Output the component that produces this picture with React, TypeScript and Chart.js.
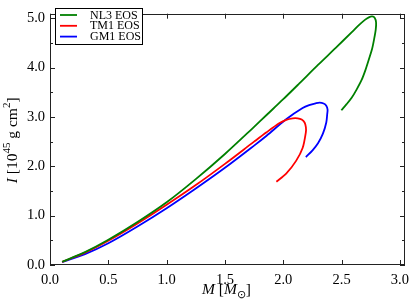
import React, { useEffect, useRef } from "react";
import { Chart, registerables } from "chart.js";

Chart.register(...registerables);

// NL3 EOS
const nl3M = [0.104, 0.3, 0.5, 0.75, 1.0, 1.25, 1.5, 1.75, 1.857, 2.0, 2.138, 2.3, 2.45, 2.588, 2.644, 2.7, 2.734, 2.762, 2.785, 2.796, 2.793, 2.779, 2.762, 2.737, 2.706, 2.672, 2.63, 2.588, 2.543, 2.498];
const nl3I = [0.065, 0.26, 0.51, 0.87, 1.27, 1.74, 2.25, 2.8, 3.04, 3.36, 3.68, 4.06, 4.4, 4.72, 4.85, 4.967, 5.019, 5.038, 5.006, 4.915, 4.772, 4.577, 4.383, 4.188, 3.96, 3.75, 3.56, 3.395, 3.259, 3.136];
// TM1 EOS
const tm1M = [0.104, 0.3, 0.5, 0.75, 1.0, 1.25, 1.5, 1.75, 1.857, 1.969, 2.025, 2.081, 2.124, 2.158, 2.183, 2.194, 2.194, 2.166, 2.11, 2.025, 1.941];
const tm1I = [0.065, 0.25, 0.49, 0.84, 1.22, 1.62, 2.05, 2.5, 2.69, 2.876, 2.941, 2.973, 2.973, 2.948, 2.889, 2.792, 2.694, 2.37, 2.11, 1.85, 1.688];
// GM1 EOS
const gm1M = [0.104, 0.3, 0.5, 0.75, 1.0, 1.25, 1.5, 1.75, 1.857, 2.025, 2.166, 2.222, 2.278, 2.312, 2.346, 2.369, 2.38, 2.377, 2.369, 2.34, 2.298, 2.251, 2.194];
const gm1I = [0.06, 0.22, 0.44, 0.78, 1.15, 1.55, 1.97, 2.42, 2.62, 2.954, 3.18, 3.24, 3.278, 3.292, 3.272, 3.227, 3.149, 3.06, 2.889, 2.662, 2.467, 2.324, 2.188];

const seriesNames = ["NL3 EOS", "TM1 EOS", "GM1 EOS"];
const seriesColors = ["#008000", "#ff0000", "#0000ff"];

const xTicks = [0, 0.5, 1.0, 1.5, 2.0, 2.5, 3.0];
const yTicks = [0, 1, 2, 3, 4, 5];
const yMinorTicks = [0.5, 1.5, 2.5, 3.5, 4.5];
const xMax = 3.044;
const yMax = 5.093;

const SERIF = "'Liberation Serif', 'Times New Roman', serif";

const toPoints = (xs: number[], ys: number[]) => xs.map((x, i) => ({ x, y: ys[i] }));

type Seg = { t: string; italic?: boolean; sup?: boolean; sub?: boolean };

function drawRich(ctx: CanvasRenderingContext2D, segs: Seg[], cx: number, baseY: number, size: number) {
  const fontFor = (s: Seg) => {
    const sz = s.sup || s.sub ? Math.round(size * 0.72) : size;
    return `${s.italic ? "italic " : ""}${sz}px ${SERIF}`;
  };
  let total = 0;
  const widths = segs.map((s) => {
    ctx.font = fontFor(s);
    const w = ctx.measureText(s.t).width;
    total += w;
    return w;
  });
  let x = cx - total / 2;
  ctx.textBaseline = "alphabetic";
  ctx.textAlign = "left";
  segs.forEach((s, i) => {
    ctx.font = fontFor(s);
    const dy = s.sup ? -size * 0.42 : s.sub ? size * 0.3 : 0;
    ctx.fillText(s.t, x, baseY + dy);
    x += widths[i];
  });
}

const decorPlugin = {
  id: "decor",
  afterDraw(chart: any) {
    const { ctx, chartArea, scales } = chart;
    const { left, right, top, bottom } = chartArea;
    const xs = scales.x;
    const ys = scales.y;
    ctx.save();
    ctx.strokeStyle = "#222";
    ctx.lineWidth = 1;
    // frame
    ctx.strokeRect(Math.round(left) + 0.5, Math.round(top) + 0.5, Math.round(right - left) - 1, Math.round(bottom - top) - 1);
    ctx.beginPath();
    const major = 5;
    const minor = 3;
    xTicks.forEach((v) => {
      const p = Math.round(xs.getPixelForValue(v)) + 0.5;
      ctx.moveTo(p, bottom);
      ctx.lineTo(p, bottom - major);
      ctx.moveTo(p, top);
      ctx.lineTo(p, top + major);
    });
    yTicks.forEach((v) => {
      const p = Math.round(ys.getPixelForValue(v)) + 0.5;
      ctx.moveTo(left, p);
      ctx.lineTo(left + major, p);
      ctx.moveTo(right, p);
      ctx.lineTo(right - major, p);
    });
    yMinorTicks.forEach((v) => {
      const p = Math.round(ys.getPixelForValue(v)) + 0.5;
      ctx.moveTo(left, p);
      ctx.lineTo(left + minor, p);
      ctx.moveTo(right, p);
      ctx.lineTo(right - minor, p);
    });
    ctx.stroke();

    // legend
    const lx = 55.5;
    const ly = 8.5;
    ctx.fillStyle = "#fff";
    ctx.fillRect(lx, ly, 87, 36);
    ctx.strokeStyle = "#000";
    ctx.strokeRect(lx, ly, 87, 36);
    seriesNames.forEach((name, i) => {
      const yy = 15 + i * 10.8;
      ctx.strokeStyle = seriesColors[i];
      ctx.lineWidth = 1.8;
      ctx.beginPath();
      ctx.moveTo(60, yy);
      ctx.lineTo(77, yy);
      ctx.stroke();
      ctx.fillStyle = "#000";
      ctx.font = `12px ${SERIF}`;
      ctx.textAlign = "left";
      ctx.textBaseline = "middle";
      ctx.fillText(name, 90, yy + 0.5);
    });

    // axis titles
    ctx.fillStyle = "#000";
    drawRich(
      ctx,
      [{ t: "M", italic: true }, { t: " [" }, { t: "M", italic: true }, { t: "\u2299", sub: true }, { t: "]" }],
      (left + right) / 2 - 1,
      293.5,
      15.5
    );
    ctx.save();
    ctx.translate(16.5, (top + bottom) / 2 + 1);
    ctx.rotate(-Math.PI / 2);
    drawRich(
      ctx,
      [{ t: "I", italic: true }, { t: " [10" }, { t: "45", sup: true }, { t: " g cm" }, { t: "2", sup: true }, { t: "]" }],
      0,
      0,
      15.5
    );
    ctx.restore();
    ctx.restore();
  },
};

export default function App() {
  const ref = useRef<HTMLCanvasElement | null>(null);
  useEffect(() => {
    if (!ref.current) return;
    const chart = new Chart(ref.current, {
      type: "scatter",
      data: {
        datasets: [
          { label: seriesNames[0], data: toPoints(nl3M, nl3I) },
          { label: seriesNames[1], data: toPoints(tm1M, tm1I) },
          { label: seriesNames[2], data: toPoints(gm1M, gm1I) },
        ].map((d, i) => ({
          ...d,
          showLine: true,
          borderColor: seriesColors[i],
          backgroundColor: seriesColors[i],
          borderWidth: 1.8,
          pointRadius: 0,
          pointHoverRadius: 0,
          tension: 0.3,
          fill: false,
        })),
      },
      options: {
        animation: false,
        responsive: false,
        devicePixelRatio: 1,
        events: [],
        layout: { padding: { left: 0, top: 3.5, right: 4.3, bottom: 0 } },
        plugins: {
          legend: { display: false },
          tooltip: { enabled: false },
          title: { display: false },
        },
        scales: {
          x: {
            type: "linear",
            min: 0,
            max: xMax,
            afterFit: (s: any) => {
              s.height = 40;
            },
            afterBuildTicks: (s: any) => {
              s.ticks = xTicks.map((v) => ({ value: v }));
            },
            grid: { display: false, drawTicks: false },
            border: { display: false },
            ticks: {
              autoSkip: false,
              maxRotation: 0,
              padding: 6,
              color: "#000",
              font: { family: SERIF, size: 14.5 },
              callback: (v: any) => Number(v).toFixed(1),
            },
          },
          y: {
            type: "linear",
            min: 0,
            max: yMax,
            afterFit: (s: any) => {
              s.width = 50;
            },
            afterBuildTicks: (s: any) => {
              s.ticks = yTicks.map((v) => ({ value: v }));
            },
            grid: { display: false, drawTicks: false },
            border: { display: false },
            ticks: {
              autoSkip: false,
              padding: 5,
              color: "#000",
              font: { family: SERIF, size: 14.5 },
              callback: (v: any) => Number(v).toFixed(1),
            },
          },
        },
      },
      plugins: [decorPlugin],
    } as any);
    return () => chart.destroy();
  }, []);
  return (
    <div style={{ position: "absolute", left: 0, top: 0, width: 415, height: 305, background: "#fff" }}>
      <canvas ref={ref} width={415} height={305} style={{ display: "block" }} />
    </div>
  );
}
